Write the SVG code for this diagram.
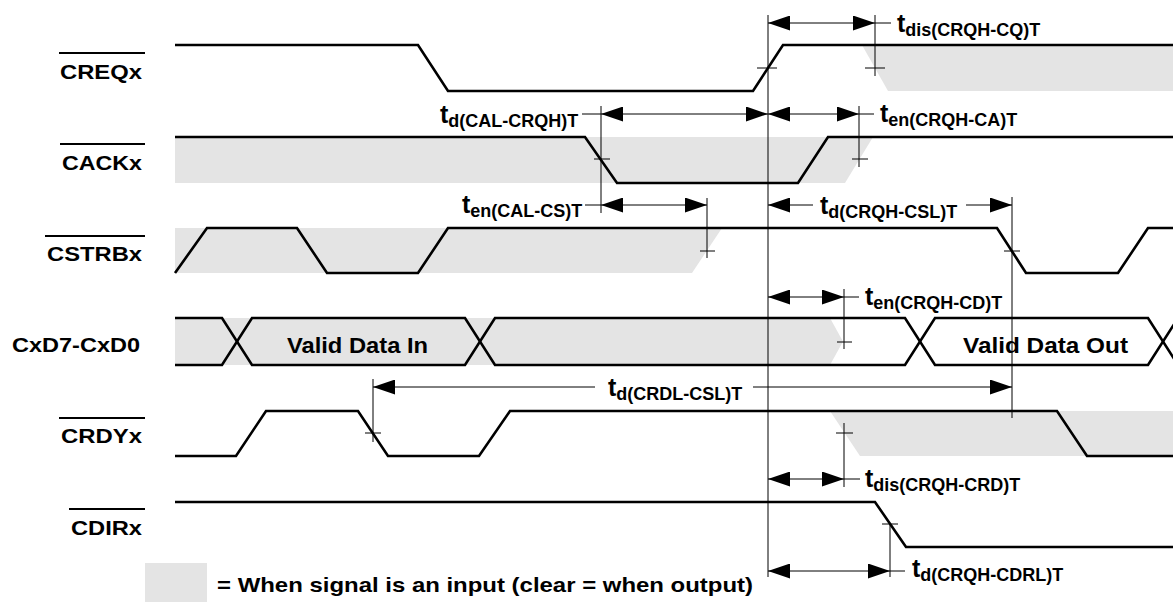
<svg xmlns="http://www.w3.org/2000/svg" width="1173" height="602" viewBox="0 0 1173 602">
<defs>
<style>
.sig{fill:none;stroke:#000;stroke-width:2.6;stroke-linejoin:miter}
.gray{fill:#e4e4e4;stroke:none}
.ref{fill:none;stroke:#000;stroke-width:1}
.dim{fill:none;stroke:#000;stroke-width:1;marker-start:url(#ah);marker-end:url(#ah)}
.dimE{fill:none;stroke:#000;stroke-width:1;marker-end:url(#ah)}
.dimS{fill:none;stroke:#000;stroke-width:1;marker-start:url(#ah)}
.ovl{stroke:#000;stroke-width:1.8}
text{font-family:"Liberation Sans",Arial,sans-serif;font-weight:bold;fill:#000}
.lbl{font-size:21px}
.big{font-size:22px}
.t{font-size:25px}
.sub{font-size:18px}
</style>
<marker id="ah" viewBox="0 0 22 15" refX="22" refY="7.5" markerWidth="22" markerHeight="15" markerUnits="userSpaceOnUse" orient="auto-start-reverse"><path d="M0,0 L22,7.5 L0,15 Z" fill="#000"/></marker>
</defs>
<rect width="1173" height="602" fill="#fff"/>

<g id="CREQx">
<polygon class="gray" points="862,45 1173,45 1173,91 888,91"/>
<path class="sig" d="M175,45 H418 L448,91 H753 L783,45 H1173"/>
<text class="lbl" x="60" y="79" textLength="82" lengthAdjust="spacingAndGlyphs">CREQx</text>
<line class="ovl" x1="59" y1="53" x2="145" y2="53"/>
</g>

<g id="CACKx">
<polygon class="gray" points="175,137 873,137 845,183 175,183"/>
<path class="sig" d="M175,137 H585 L617,183 H798 L828,137 H1173"/>
<text class="lbl" x="62" y="170" textLength="80" lengthAdjust="spacingAndGlyphs">CACKx</text>
<line class="ovl" x1="60" y1="144" x2="145" y2="144"/>
</g>

<g id="CSTRBx">
<polygon class="gray" points="175,228 722,228 692,273 175,273"/>
<path class="sig" d="M175,273 L207,228 H297 L327,273 H418 L448,228 H997 L1026,273 H1118 L1148,228 H1173"/>
<text class="lbl" x="47" y="261" textLength="95" lengthAdjust="spacingAndGlyphs">CSTRBx</text>
<line class="ovl" x1="45" y1="236" x2="145" y2="236"/>
</g>

<g id="CxD7-CxD0">
<polygon class="gray" points="175,318 830,318 843,341.5 830,365 175,365"/>
<path class="sig" d="M175,318 H222 L252,365 H465 L495,318 H905 L935,365 H1148 L1178,318"/>
<path class="sig" d="M175,365 H222 L252,318 H465 L495,365 H905 L935,318 H1148 L1178,365"/>
<text class="lbl" x="12" y="352" textLength="128" lengthAdjust="spacingAndGlyphs">CxD7-CxD0</text>
<text class="big" x="287" y="353" textLength="141" lengthAdjust="spacingAndGlyphs">Valid Data In</text>
<text class="big" x="963" y="353" textLength="165" lengthAdjust="spacingAndGlyphs">Valid Data Out</text>
</g>

<g id="CRDYx">
<polygon class="gray" points="830,411 1173,411 1173,456 860,456"/>
<path class="sig" d="M175,456 H236 L266,411 H358 L388,456 H479 L510,411 H1057 L1087,456 H1173"/>
<text class="lbl" x="61" y="443" textLength="81" lengthAdjust="spacingAndGlyphs">CRDYx</text>
<line class="ovl" x1="59" y1="418" x2="145" y2="418"/>
</g>

<g id="CDIRx">
<path class="sig" d="M175,502 H875 L906,547 H1173"/>
<text class="lbl" x="71" y="535" textLength="71" lengthAdjust="spacingAndGlyphs">CDIRx</text>
<line class="ovl" x1="69" y1="509" x2="145" y2="509"/>
</g>

<g id="legend">
<rect class="gray" x="145" y="563" width="62" height="39"/>
<text class="lbl" x="217" y="592" textLength="536" lengthAdjust="spacingAndGlyphs">= When signal is an input (clear = when output)</text>
</g>

<g id="connectors">
<line class="ref" x1="768" y1="15" x2="768" y2="577"/>
<line class="ref" x1="757" y1="68" x2="777" y2="68"/>

<line class="ref" x1="875" y1="15" x2="875" y2="76"/>
<line class="ref" x1="865" y1="68" x2="885" y2="68"/>
<line class="dim" x1="768" y1="23" x2="875" y2="23"/>
<line class="ref" x1="875" y1="23" x2="891" y2="23"/>
<text x="897" y="32"><tspan class="t">t</tspan><tspan class="sub" dy="4">dis(CRQH-CQ)T</tspan></text>

<line class="ref" x1="601" y1="106" x2="601" y2="213"/>
<line class="ref" x1="594" y1="159" x2="610" y2="159"/>
<line class="ref" x1="582" y1="114" x2="601" y2="114"/>
<line class="dim" x1="601" y1="114" x2="768" y2="114"/>
<text x="440" y="123"><tspan class="t">t</tspan><tspan class="sub" dy="4">d(CAL-CRQH)T</tspan></text>

<line class="ref" x1="859" y1="106" x2="859" y2="167"/>
<line class="ref" x1="852" y1="159" x2="868" y2="159"/>
<line class="dim" x1="768" y1="114" x2="859" y2="114"/>
<line class="ref" x1="859" y1="114" x2="874" y2="114"/>
<text x="880" y="122"><tspan class="t">t</tspan><tspan class="sub" dy="4">en(CRQH-CA)T</tspan></text>

<line class="ref" x1="707" y1="198" x2="707" y2="258"/>
<line class="ref" x1="700" y1="251" x2="715" y2="251"/>
<line class="ref" x1="585" y1="205" x2="601" y2="205"/>
<line class="dim" x1="601" y1="205" x2="707" y2="205"/>
<text x="462" y="213"><tspan class="t">t</tspan><tspan class="sub" dy="4">en(CAL-CS)T</tspan></text>

<line class="ref" x1="1012" y1="197" x2="1012" y2="418"/>
<line class="ref" x1="1004" y1="251" x2="1020" y2="251"/>
<line class="dimS" x1="768" y1="205" x2="813" y2="205"/>
<line class="dimE" x1="966" y1="205" x2="1012" y2="205"/>
<text x="820" y="214"><tspan class="t">t</tspan><tspan class="sub" dy="4">d(CRQH-CSL)T</tspan></text>

<line class="ref" x1="844" y1="289" x2="844" y2="349"/>
<line class="ref" x1="837" y1="342" x2="852" y2="342"/>
<line class="dim" x1="768" y1="297" x2="844" y2="297"/>
<line class="ref" x1="844" y1="297" x2="859" y2="297"/>
<text x="865" y="305"><tspan class="t">t</tspan><tspan class="sub" dy="4">en(CRQH-CD)T</tspan></text>

<line class="ref" x1="373" y1="379" x2="373" y2="442"/>
<line class="ref" x1="365" y1="433" x2="381" y2="433"/>
<line class="dimS" x1="373" y1="387" x2="595" y2="387"/>
<line class="dimE" x1="753" y1="387" x2="1012" y2="387"/>
<text x="608" y="396"><tspan class="t">t</tspan><tspan class="sub" dy="4">d(CRDL-CSL)T</tspan></text>

<line class="ref" x1="844" y1="423" x2="844" y2="487"/>
<line class="ref" x1="836" y1="433" x2="853" y2="433"/>
<line class="dim" x1="768" y1="479" x2="844" y2="479"/>
<line class="ref" x1="844" y1="479" x2="860" y2="479"/>
<text x="865" y="487"><tspan class="t">t</tspan><tspan class="sub" dy="4">dis(CRQH-CRD)T</tspan></text>

<line class="ref" x1="890" y1="523" x2="890" y2="577"/>
<line class="ref" x1="882" y1="524" x2="898" y2="524"/>
<line class="dim" x1="768" y1="571" x2="890" y2="571"/>
<line class="ref" x1="890" y1="571" x2="905" y2="571"/>
<text x="912" y="577"><tspan class="t">t</tspan><tspan class="sub" dy="4">d(CRQH-CDRL)T</tspan></text>
</g>
</svg>
